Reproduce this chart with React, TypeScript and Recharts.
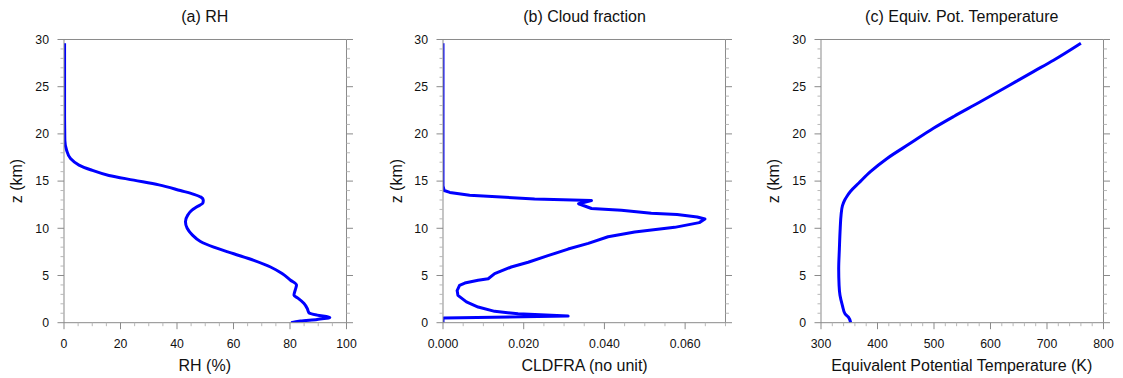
import React from 'react'
import { LineChart, Line, XAxis, YAxis, ReferenceLine } from 'recharts'

// (a) relative humidity profile
const RH_Z = [29.6, 27, 24, 22, 20.5, 19.3, 18.3, 17.4, 16.7, 16.2, 15.6, 15.1, 14.6, 14.0, 13.6, 13.3, 13.0, 12.7, 12.3, 11.9, 11.4, 10.7, 10.0, 9.3, 8.6, 8.0, 7.3, 6.6, 5.9, 5.2, 4.5, 4.0, 3.5, 2.9, 2.6, 2.05, 1.5, 1.06, 0.8, 0.56, 0.35, 0.18, 0]
const RH_VALUES = [0.2, 0.2, 0.2, 0.2, 0.25, 0.3, 0.9, 2.3, 5.3, 9.4, 15.9, 24.7, 33.6, 41.2, 46.0, 48.5, 49.3, 49.2, 47.2, 45.2, 43.8, 43.0, 43.6, 45.4, 48.3, 53.0, 60.1, 67.2, 73.1, 77.2, 80.2, 82.3, 81.9, 81.4, 82.8, 84.9, 86.1, 86.7, 89.6, 94.1, 89.6, 83.7, 80.4]

// (b) cloud fraction profile
const CF_Z = [29.6, 20, 14.5, 14.0, 13.8, 13.5, 13.1, 12.95, 12.6, 12.1, 11.9, 11.6, 11.45, 11.2, 10.98, 10.6, 10.1, 9.6, 9.1, 8.4, 7.8, 7.1, 6.4, 5.9, 5.2, 4.66, 4.5, 4.2, 3.95, 3.4, 2.9, 2.2, 1.66, 1.2, 0.95, 0.7, 0.5, 0.45, 0]
const CF_VALUES = [0, 0, 0, 0.0003, 0.0017, 0.0066, 0.0227, 0.0368, 0.0336, 0.0368, 0.0442, 0.0516, 0.058, 0.063, 0.0649, 0.0635, 0.0574, 0.0475, 0.0409, 0.036, 0.031, 0.026, 0.0211, 0.0169, 0.0128, 0.0112, 0.0087, 0.0054, 0.0041, 0.0035, 0.0037, 0.0058, 0.0087, 0.0128, 0.0186, 0.031, 0.0002, 0, 0]

// (c) equivalent potential temperature profile
const THETA_Z = [29.6, 27.8, 26.6, 25.0, 23.4, 21.85, 20.6, 19.0, 17.4, 16.0, 14.8, 13.9, 13.4, 13.0, 12.4, 11.4, 10.0, 7.8, 5.7, 3.96, 2.9, 1.84, 0.95, 0.6, 0]
const THETA_VALUES = [760, 711.6, 676, 629, 582, 535, 499, 458, 417, 387.5, 367, 352, 346, 342, 338, 335.5, 334, 332.5, 331.3, 332, 333.6, 337.8, 342.5, 348.4, 352.5]

const Z_MAJOR = [0, 5, 10, 15, 20, 25, 30]
const RH_MAJOR = [0, 20, 40, 60, 80, 100]
const CF_MAJOR = [0, 0.02, 0.04, 0.06]
const THETA_MAJOR = [300, 400, 500, 600, 700, 800]

const steps = (from: number, to: number, step: number) => {
  const out: number[] = []
  for (let v = from; v <= to + step / 2; v += step) out.push(+v.toFixed(6))
  return out
}

const FONT = '"Liberation Sans", Arial, Helvetica, sans-serif'
const AXIS = '#8a8a8a'
const MINOR = '#b8b8b8'
const TEXT = '#111'

const PLOT_W = 282.5
const PLOT_H = 283.2
const PLOT_TOP = 39.5
const LEFT_W = 60
const RIGHT_W = 12
const BOTTOM_H = 55

const isMajor = (v: number, majors: number[]) => majors.some((m) => Math.abs(m - v) < 1e-9)

const BottomTick = ({ x, y, payload, majors, fmt }: any) => {
  const major = isMajor(payload.value, majors)
  return (
    <g>
      <line x1={x} x2={x} y1={y} y2={y + (major ? 6.5 : 3.5)} stroke={major ? AXIS : MINOR} />
      {major && (
        <text x={x} y={y + 25.6} textAnchor="middle" fontSize={12.3} fontFamily={FONT} fill={TEXT}>
          {fmt(payload.value)}
        </text>
      )}
    </g>
  )
}

const LeftTick = ({ x, y, payload }: any) => {
  const major = isMajor(payload.value, Z_MAJOR)
  return (
    <g>
      <line x1={x - (major ? 6.5 : 3.5)} x2={x} y1={y} y2={y} stroke={major ? AXIS : MINOR} />
      {major && (
        <text x={x - 15} y={y + 4.4} textAnchor="end" fontSize={12.3} fontFamily={FONT} fill={TEXT}>
          {payload.value}
        </text>
      )}
    </g>
  )
}

const RightTick = ({ x, y, payload }: any) => {
  const major = isMajor(payload.value, Z_MAJOR)
  return <line x1={x} x2={x + (major ? 6.5 : 3.5)} y1={y} y2={y} stroke={major ? AXIS : MINOR} />
}

type PanelProps = {
  left: number
  zs: number[]
  values: number[]
  domain: [number, number]
  majors: number[]
  minorStep: number
  curve: 'monotone' | 'linear'
  fmt: (v: number) => string
}

function Profile({ left, zs, values, domain, majors, minorStep, curve, fmt }: PanelProps) {
  const data = zs.map((z, i) => ({ z, v: values[i] }))
  const xTicks = steps(domain[0], domain[1], minorStep)
  const zTicks = steps(0, 30, 1)
  return (
    <div style={{ position: 'absolute', left: left - LEFT_W, top: 0 }}>
      <LineChart
        width={LEFT_W + PLOT_W + RIGHT_W}
        height={PLOT_TOP + PLOT_H + BOTTOM_H}
        data={data}
        layout="vertical"
        margin={{ top: PLOT_TOP, right: 0, bottom: 0, left: 0 }}
      >
        <XAxis
          type="number"
          dataKey="v"
          domain={domain}
          allowDataOverflow
          ticks={xTicks}
          interval={0}
          height={BOTTOM_H}
          tickSize={0}
          tickMargin={0}
          tickLine={false}
          axisLine={{ stroke: AXIS }}
          tick={(p: any) => <BottomTick {...p} majors={majors} fmt={fmt} />}
        />
        <YAxis
          yAxisId="z"
          type="number"
          dataKey="z"
          domain={[0, 30]}
          reversed
          allowDataOverflow
          ticks={zTicks}
          interval={0}
          width={LEFT_W}
          tickSize={0}
          tickMargin={0}
          tickLine={false}
          axisLine={{ stroke: AXIS }}
          tick={(p: any) => <LeftTick {...p} />}
        />
        <YAxis
          yAxisId="zr"
          orientation="right"
          type="number"
          dataKey="z"
          domain={[0, 30]}
          reversed
          allowDataOverflow
          ticks={zTicks}
          interval={0}
          width={RIGHT_W}
          tickSize={0}
          tickMargin={0}
          tickLine={false}
          axisLine={{ stroke: AXIS }}
          tick={(p: any) => <RightTick {...p} />}
        />
        <ReferenceLine yAxisId="z" y={30} stroke={AXIS} />
        <Line
          yAxisId="z"
          type={curve}
          dataKey="v"
          stroke="#0000ff"
          strokeWidth={3}
          strokeLinejoin="round"
          dot={false}
          activeDot={false}
          isAnimationActive={false}
        />
      </LineChart>
    </div>
  )
}

const PANELS = [
  { left: 63.5, title: '(a) RH', xTitle: 'RH (%)' },
  { left: 443.3, title: '(b) Cloud fraction', xTitle: 'CLDFRA (no unit)' },
  { left: 820.5, title: '(c) Equiv. Pot. Temperature', xTitle: 'Equivalent Potential Temperature (K)' },
]

export default function App() {
  return (
    <div style={{ position: 'absolute', left: 0, top: 0, width: 1123, height: 378, background: '#fff', overflow: 'hidden' }}>
      <Profile left={PANELS[0].left} zs={RH_Z} values={RH_VALUES} domain={[0, 100]} majors={RH_MAJOR} minorStep={5} curve="monotone" fmt={(v) => String(v)} />
      <Profile left={PANELS[1].left} zs={CF_Z} values={CF_VALUES} domain={[0, 0.07]} majors={CF_MAJOR} minorStep={0.005} curve="linear" fmt={(v) => v.toFixed(3)} />
      <Profile left={PANELS[2].left} zs={THETA_Z} values={THETA_VALUES} domain={[300, 800]} majors={THETA_MAJOR} minorStep={20} curve="monotone" fmt={(v) => String(v)} />
      <svg width={1123} height={378} style={{ position: 'absolute', left: 0, top: 0, pointerEvents: 'none' }}>
        {PANELS.map((p) => {
          const cx = p.left + PLOT_W / 2
          const ly = PLOT_TOP + PLOT_H / 2
          return (
            <g key={p.title} fontFamily={FONT} fill={TEXT} fontSize={16}>
              <text x={cx} y={21.5} textAnchor="middle">{p.title}</text>
              <text x={cx} y={371.3} textAnchor="middle">{p.xTitle}</text>
              <text x={p.left - 47} y={ly} textAnchor="middle" transform={`rotate(-90 ${p.left - 47} ${ly})`} dy={5.5}>
                z (km)
              </text>
            </g>
          )
        })}
      </svg>
    </div>
  )
}
